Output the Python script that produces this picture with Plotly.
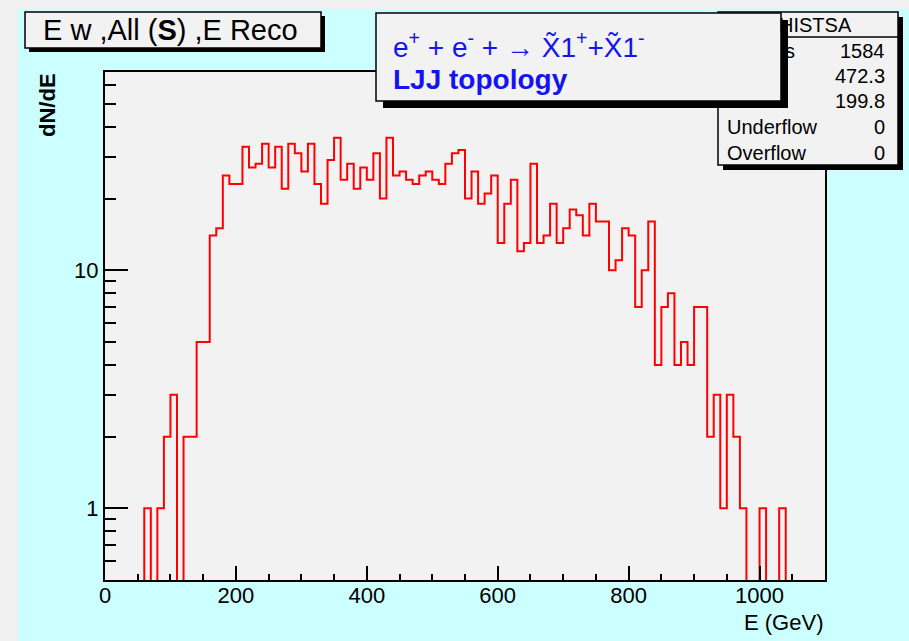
import numpy as np
import plotly.graph_objects as go

# ---------------- data ----------------
bin_width = 10.0
x_min, x_max = 0.0, 1100.0
counts = [
    0, 0, 0, 0, 0, 0, 1, 0, 1, 2,          # 0-100
    3, 0, 2, 2, 5, 5, 14, 15, 25, 23,      # 100-200
    23, 33, 27, 28, 34, 27, 33, 22, 34, 31,  # 200-300
    26, 34, 23, 19, 29, 36, 24, 28, 22, 27,  # 300-400
    24, 31, 20, 36, 25, 26, 24, 23, 25, 26,  # 400-500
    24, 23, 28, 31, 32, 20, 26, 19, 21, 25,  # 500-600
    13, 19, 24, 12, 13, 28, 13, 14, 19, 13,  # 600-700
    15, 18, 17, 14, 19, 16, 16, 10, 11, 15,  # 700-800
    14, 7, 10, 16, 4, 7, 8, 4, 5, 4,         # 800-900
    7, 7, 2, 3, 1, 3, 2, 1, 0, 0,            # 900-1000
    1, 0, 0, 1, 0, 0, 0, 0, 0, 0,            # 1000-1100
]
x_tick_vals = [0, 200, 400, 600, 800, 1000]
y_tick_vals = [1, 10]
y_minor_vals = [0.6, 0.7, 0.8, 0.9, 2, 3, 4, 5, 6, 7, 8, 9, 20, 30, 40, 50, 60]
y_range = [0.5, 68]

stats_title = "HISTSA"
stats_labels = ["Entries", "Mean", "RMS", "Underflow", "Overflow"]
stats_values = ["1584", "472.3", "199.8", "0", "0"]

# ---------------- geometry ----------------
W, H = 909, 641
L, R, T, B = 105, 84, 72, 61
PW, PH = W - L - R, H - T - B


def fx(px):
    return (px - L) / PW


def fy(py):
    return (H - B - py) / PH


edges = x_min + bin_width * np.arange(len(counts) + 1)
c = np.array(counts, dtype=float)
floor = 1e-3
c_draw = np.where(c > 0, c, floor)
ys = np.append(c_draw, c_draw[-1])

fig = go.Figure()
fig.add_trace(go.Scatter(
    x=edges, y=ys, mode="lines", line_shape="hv",
    line=dict(color="#ff0000", width=2), hoverinfo="skip", showlegend=False,
))

FONT = "Liberation Sans, Arial, Helvetica, sans-serif"

fig.update_layout(
    width=W, height=H,
    margin=dict(l=L, r=R, t=T, b=B, pad=0),
    paper_bgcolor="#ccffff",
    plot_bgcolor="#f2f2f2",
    font=dict(family=FONT, color="black", size=22),
    showlegend=False,
)
fig.update_xaxes(
    range=[x_min, x_max], showgrid=False, zeroline=False,
    showline=True, linecolor="black", linewidth=2, mirror=True,
    tickmode="array", tickvals=x_tick_vals,
    ticks="inside", ticklen=14, tickwidth=1.5, tickcolor="black",
    tickfont=dict(size=22, family=FONT), ticklabelstandoff=-5,
    minor=dict(dtick=50, tick0=0, ticks="inside", ticklen=6, tickwidth=1.5, tickcolor="black", showgrid=False),
)
fig.update_yaxes(
    type="log", range=[np.log10(y_range[0]), np.log10(y_range[1])],
    showgrid=False, zeroline=False,
    showline=True, linecolor="black", linewidth=2, mirror=True,
    tickmode="array", tickvals=y_tick_vals, ticktext=[str(v) for v in y_tick_vals],
    ticks="inside", ticklen=23, tickwidth=1.5, tickcolor="black",
    tickfont=dict(size=22, family=FONT),
    minor=dict(tickmode="array", tickvals=y_minor_vals, ticks="inside", ticklen=11,
               tickwidth=1.5, tickcolor="black", showgrid=False),
)

shapes = []


def rect(x0, y0, x1, y1, fill, line_w=0, line_c="black"):
    shapes.append(dict(
        type="rect", xref="paper", yref="paper",
        x0=fx(x0), x1=fx(x1), y0=fy(y1), y1=fy(y0),
        fillcolor=fill, line=dict(width=line_w, color=line_c), layer="above",
    ))


# grey page strips
rect(0, 0, W, 9, "#f0f0f0")
rect(0, 0, 18, H, "#f0f0f0")
# title box
rect(29, 16, 325, 52, "black")
rect(25, 12, 321, 48, "#f2f2f2", 1.5)
# stats box
rect(723, 17, 903, 170, "black")
rect(718, 12, 898, 165, "#f2f2f2", 1.5)
shapes.append(dict(type="line", xref="paper", yref="paper",
                   x0=fx(718), x1=fx(898), y0=fy(37), y1=fy(37),
                   line=dict(width=1.5, color="black"), layer="above"))
# legend box
rect(383, 20, 788, 108, "black")
rect(376, 13, 781, 101, "#f2f2f2", 1.5)

annotations = []


def text(x, y, s, size, xanchor="left", color="black", angle=0, yanchor="middle"):
    annotations.append(dict(
        x=fx(x), y=fy(y), xref="paper", yref="paper", text=s, showarrow=False,
        xanchor=xanchor, yanchor=yanchor, textangle=angle,
        font=dict(size=size, color=color, family=FONT),
    ))


text(41, 30, "E w ,All (<b>S</b>) ,E Reco", 29)
text(391, 45, "e<sup>+</sup> + e<sup>-</sup> + → X\u03031<sup>+</sup>+X\u03031<sup>-</sup>", 28, color="#1414f0")
text(391, 80, "<b>LJJ topology</b>", 28, color="#1414f0")
text(815, 25, stats_title, 20, xanchor="center")
text(797, 51, "s", 20, xanchor="right")
row_y = [51, 76, 101, 127, 153]
for lab, val, yy in zip(stats_labels, stats_values, row_y):
    if lab in ("Underflow", "Overflow"):
        text(725, yy, lab, 20)
    text(887, yy, val, 20, xanchor="right")
text(47, 105, "<b>dN/dE</b>", 22, xanchor="center", angle=-90)
text(825, 622, "E (GeV)", 22, xanchor="right")

fig.update_layout(shapes=shapes, annotations=annotations)
fig.write_html("out.html")
